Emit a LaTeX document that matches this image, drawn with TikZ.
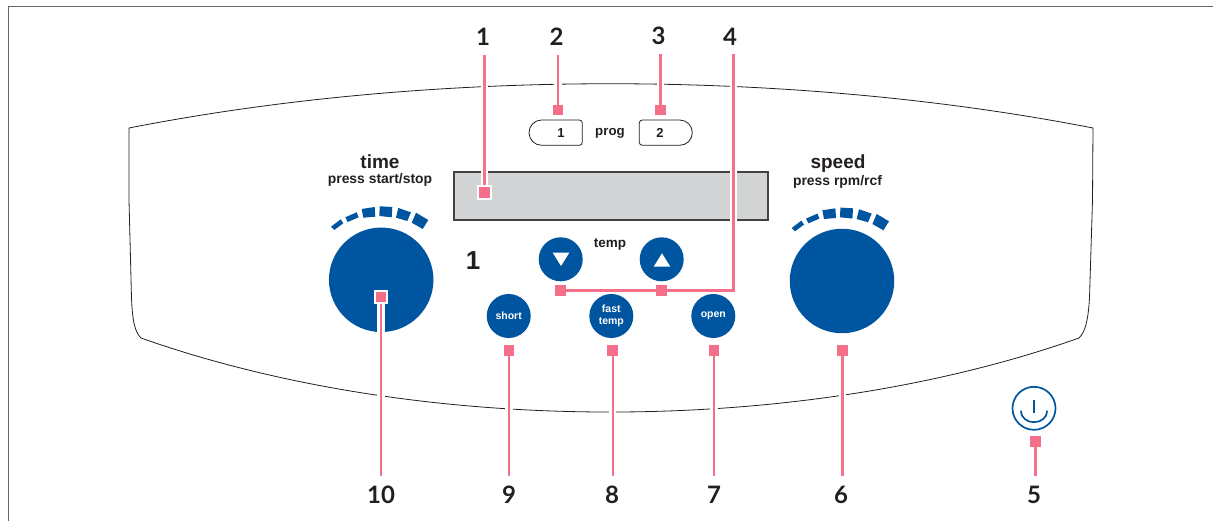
\documentclass[tikz,border=0pt]{standalone}
\usepackage{fontspec}
\setmainfont{Liberation Sans}
\newfontfamily\numfont{Lato}
\pgfdeclarelayer{panel}
\pgfdeclarelayer{leaders}
\pgfsetlayers{panel,leaders,main}
\definecolor{bluek}{HTML}{0055A0}
\definecolor{pinkl}{HTML}{F4708A}
\definecolor{ink}{HTML}{231F20}
\definecolor{disp}{HTML}{D1D3D4}
\newcommand{\fs}[1]{\fontsize{#1}{#1}\selectfont}
\tikzset{
  frameline/.style={draw=black!60,line width=1pt},
  panelline/.style={draw=ink,line width=.8pt},
  sq/.style={rectangle,fill=pinkl,minimum size=10.5pt,inner sep=0pt,outer sep=0pt},
  sqh/.style={sq,draw=white,line width=2.4pt,minimum size=12.5pt},
  leader/.style={draw=pinkl,line width=2.4pt,preaction={draw=white,line width=7.5pt}},
  num/.style={font=\numfont\bfseries\fs{24},text=ink,inner sep=0pt},
  lab/.style={font=\bfseries\fs{#1},text=ink,inner sep=0pt},
  btn/.style={circle,fill=bluek,minimum size=44pt,inner sep=0pt,outer sep=0pt,align=center,text=white,font=\bfseries\fs{10.5}},
  knob/.style={circle,fill=bluek,minimum size=104.5pt,inner sep=0pt},
  progbtn/.style={draw=ink,line width=.8pt,fill=white},
  seg/.style={fill=bluek,draw=none},
  powerline/.style={draw=bluek,line width=1.7pt}
}
\newcommand{\ticks}{%
  \fill[seg] (331,226.7)--(340.7,219.3)--(343.3,223.3)--(334.3,230)--cycle;
  \fill[seg] (345.3,217.3)--(356.7,212.3)--(358.7,217.3)--(347.7,222)--cycle;
  \fill[seg] (361.7,209)--(374.7,207)--(375.3,216.7)--(363.3,217.7)--cycle;
  \fill[seg] (379.7,206.3)--(392.3,207)--(391.7,217.3)--(379.3,216)--cycle;
  \fill[seg] (398.3,208)--(411,212.3)--(407.3,221)--(396,217.7)--cycle;
  \fill[seg] (416,212.7)--(428.3,220)--(422.7,229)--(411.7,222.7)--cycle;
}
\begin{document}
\begin{tikzpicture}[x=1pt,y=-1pt]
\useasboundingbox (0,0) rectangle (1213,521);
\begin{pgfonlayer}{panel}
\draw[frameline] (8,521) -- (8,6.5) -- (1213,6.5);
\draw[panelline] (129,128) .. controls (430,69) and (790,69) .. (1093,128)
  -- (1092.5,200) -- (1089.5,298) .. controls (1088,322) and (1085,332) .. (1079,338)
  .. controls (800,436.7) and (420,436.7) .. (141,338)
  .. controls (135,332) and (132.5,322) .. (131.5,298) -- (129,200) -- cycle;
\node[knob] (timeknob) at (381.2,279.8) {};
\node[knob] (speedknob) at (842,281) {};
\ticks
\begin{scope}[shift={(460.7,1.3)}]\ticks\end{scope}
\node[draw=ink!85,line width=1.1pt,fill=disp,minimum width=314pt,minimum height=48pt,inner sep=0pt] (display) at (611,196) {};
\draw[progbtn] (555,145.3) [rounded corners=3pt] -- (582.3,145.3) -- (582.3,120) -- (555,120) [rounded corners=12.6pt] -- (529,120) -- (529,145.3) -- cycle;
\draw[progbtn] (665,145.3) [rounded corners=3pt] -- (639.3,145.3) -- (639.3,120) -- (665,120) [rounded corners=12.6pt] -- (692.3,120) -- (692.3,145.3) -- cycle;
\node[btn] (down) at (560.7,259.3) {};
\node[btn] (up) at (661.7,259.3) {};
\fill[white] (552.7,252.7) -- (569.3,252.7) -- (561,266) -- cycle;
\fill[white] (653.7,266.7) -- (670.3,266.7) -- (662,253.3) -- cycle;
\node[btn] (short) at (508.7,316) {short};
\node[btn] (fast) at (611.3,316) {fast\\[1.5pt]temp};
\node[btn] (open) at (713.3,316) {open};
\node[circle,draw=bluek,line width=1.7pt,minimum size=43pt,inner sep=0pt] (power) at (1034,408.3) {};
\draw[powerline] (1021,410.7) .. controls (1021,426) and (1047,426) .. (1047,410.7);
\draw[powerline] (1034,399.5) -- (1034,413);
\end{pgfonlayer}

\node[lab=19] (ttime) at (380,162) {time};
\node[lab=13.9] (tpress) at (380,180) {press start/stop};
\node[lab=19] (tspeed) at (838,164) {speed};
\node[lab=13.9] (tpressr) at (837.5,182) {press rpm/rcf};
\node[lab=13.3] (tprog) at (610,133) {prog};
\node[lab=13] (tone) at (561,133) {1};
\node[lab=13] (ttwo) at (660,132.5) {2};
\node[lab=13.5] (ttemp) at (610,244) {temp};
\node[font=\bfseries\fs{26},text=ink,inner sep=0pt] (bigone) at (473,261) {1};

\node[sqh] (s1) at (484.5,192.5) {};
\node[sq] (s2) at (558,110) {};
\node[sq] (s3) at (660.3,110) {};
\node[sq] (s4a) at (661.7,290.5) {};
\node[sq] (s4b) at (560.7,290.5) {};
\node[sq] (s5) at (1035.3,441.3) {};
\node[sq] (s6) at (842.3,350.5) {};
\node[sq] (s7) at (714,350.5) {};
\node[sq] (s8) at (612.7,350.5) {};
\node[sq] (s9) at (509,350.5) {};
\node[sqh] (s10) at (381,297) {};

\node[num] (n1) at (483,37) {1};
\node[num] (n2) at (556.5,37) {2};
\node[num] (n3) at (658.5,36) {3};
\node[num] (n4) at (730,37) {4};
\node[num] (n5) at (1034,495) {5};
\node[num] (n6) at (841,495) {6};
\node[num] (n7) at (714,495) {7};
\node[num] (n8) at (612,495) {8};
\node[num] (n9) at (509,495) {9};
\node[num] (n10) at (381,495) {10};

\coordinate (e1) at (484.5,55);
\coordinate (e2) at (558,55);
\coordinate (e3) at (660.3,54);
\coordinate (e4) at (733.3,54);
\coordinate (c4) at (733.3,290.5);
\coordinate (e5) at (1035.3,476);
\coordinate (e6) at (842.3,476);
\coordinate (e7) at (714,476);
\coordinate (e8) at (612.7,476);
\coordinate (e9) at (509,476);
\coordinate (e10) at (381,476);

\begin{pgfonlayer}{leaders}
\draw[leader] (e1) -- (s1.center);
\draw[leader] (e2) -- (s2.center);
\draw[leader] (e3) -- (s3.center);
\draw[leader] (e4) -- (c4) -- (s4a.center) -- (s4b.center);
\draw[leader] (e5) -- (s5.center);
\draw[leader] (e6) -- (s6.center);
\draw[leader] (e7) -- (s7.center);
\draw[leader] (e8) -- (s8.center);
\draw[leader] (e9) -- (s9.center);
\draw[leader] (e10) -- (s10.center);
\end{pgfonlayer}
\end{tikzpicture}
\end{document}
